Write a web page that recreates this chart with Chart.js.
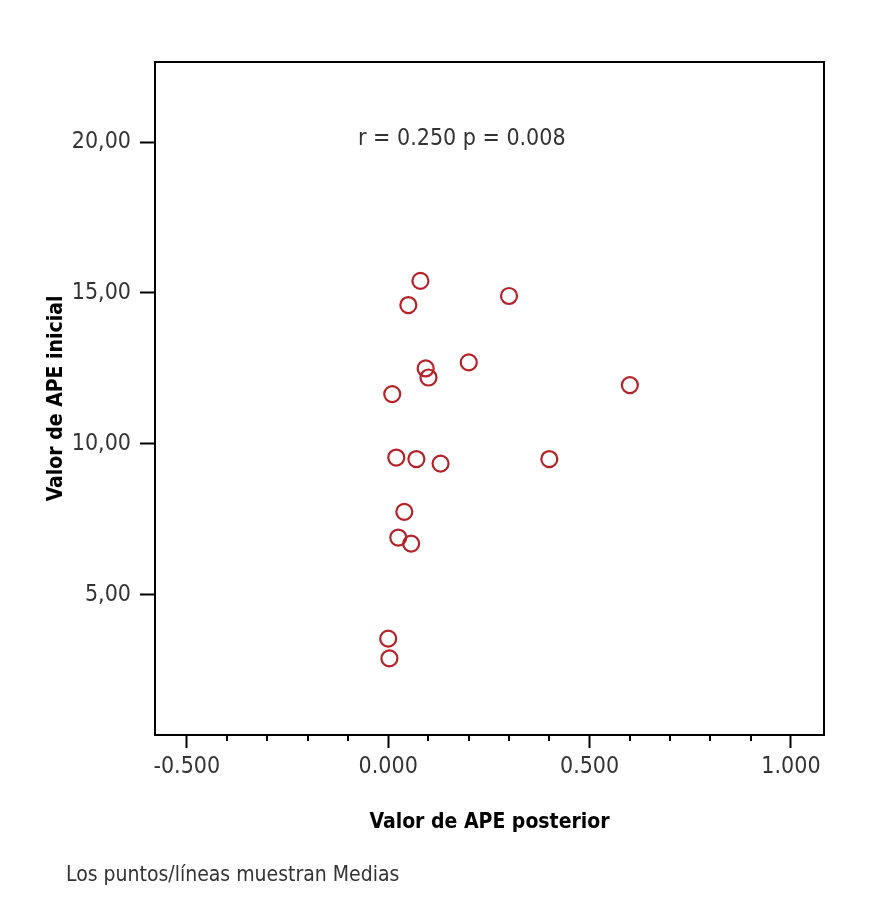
<!DOCTYPE html>
<html>
<head>
<meta charset="utf-8">
<script src="https://cdn.jsdelivr.net/npm/chart.js@4/dist/chart.umd.min.js"></script>
<style>
  body { margin: 0; background: #fff; }
  #wrap { width: 887px; height: 900px; }
</style>
</head>
<body>
<div id="wrap"><canvas id="apeChart" width="887" height="900"></canvas></div>
<script>
// values
const apePosterior = [0.08, 0.05, 0.30, 0.093, 0.10, 0.20, 0.60, 0.01, 0.02, 0.07, 0.13, 0.40, 0.04, 0.025, 0.057, 0.0, 0.003];
const apeInicial = [15.4, 14.6, 14.9, 12.5, 12.2, 12.7, 11.95, 11.65, 9.55, 9.5, 9.35, 9.5, 7.75, 6.9, 6.7, 3.55, 2.9];
const xMajorTicks = [-0.5, 0, 0.5, 1.0];
const xMinorTicks = [-0.4, -0.3, -0.2, -0.1, 0.1, 0.2, 0.3, 0.4, 0.6, 0.7, 0.8, 0.9];
const yTicks = [5, 10, 15, 20];
const statsText = 'r = 0.250 p = 0.008';
const footNote = 'Los puntos/líneas muestran Medias';

const FONT = "'Liberation Sans Narrow', 'DejaVu Sans Condensed', 'Liberation Sans', sans-serif";

// frame, minor ticks and texts
const extras = {
    id: 'extras',
    afterDraw(chart) {
        const ctx = chart.ctx;
        const area = chart.chartArea;
        const xs = chart.scales.x;
        ctx.save();
        ctx.strokeStyle = '#000';
        ctx.lineWidth = 2;
        ctx.strokeRect(area.left, area.top, area.right - area.left, area.bottom - area.top);
        xMinorTicks.forEach(v => {
            const px = Math.round(xs.getPixelForValue(v));
            ctx.beginPath();
            ctx.moveTo(px, area.bottom);
            ctx.lineTo(px, area.bottom + 6);
            ctx.stroke();
        });
        ctx.fillStyle = '#333';
        ctx.textBaseline = 'middle';
        ctx.font = '23px ' + FONT;
        ctx.textAlign = 'left';
        ctx.fillText(statsText, 358, 139);
        ctx.font = '21px ' + FONT;
        ctx.fillText(footNote, 66, 876);
        ctx.restore();
    }
};

new Chart(document.getElementById('apeChart').getContext('2d'), {
    type: 'scatter',
    data: {
        datasets: [{
            data: apePosterior.map((x, i) => ({ x: x, y: apeInicial[i] })),
            pointStyle: 'circle',
            pointRadius: 8,
            pointBorderWidth: 2.2,
            pointBorderColor: '#b52228',
            pointBackgroundColor: 'rgba(0,0,0,0)'
        }]
    },
    options: {
        responsive: false,
        animation: false,
        layout: { padding: { left: 0, top: 62, right: 63, bottom: 0 } },
        plugins: {
            legend: { display: false },
            tooltip: { enabled: false }
        },
        scales: {
            x: {
                type: 'linear',
                min: -0.579,
                max: 1.082,
                afterFit: scale => { scale.height = 165; },
                afterBuildTicks: scale => { scale.ticks = xMajorTicks.map(v => ({ value: v })); },
                grid: { drawOnChartArea: false, tickLength: 13, tickWidth: 2, tickColor: '#000' },
                border: { display: false },
                ticks: {
                    padding: 5,
                    color: '#333',
                    font: { family: FONT, size: 23 },
                    maxRotation: 0,
                    autoSkip: false,
                    callback: v => v.toFixed(3)
                },
                title: {
                    display: true,
                    text: 'Valor de APE posterior',
                    color: '#000',
                    font: { family: FONT, size: 21, weight: 'bold' },
                    padding: { top: 0, bottom: 65 }
                }
            },
            y: {
                type: 'linear',
                min: 0.36,
                max: 22.65,
                afterFit: scale => { scale.width = 155; },
                afterBuildTicks: scale => { scale.ticks = yTicks.map(v => ({ value: v })); },
                grid: { drawOnChartArea: false, tickLength: 15, tickWidth: 2, tickColor: '#000' },
                border: { display: false },
                ticks: {
                    padding: 9,
                    color: '#333',
                    font: { family: FONT, size: 23 },
                    callback: v => v.toFixed(2).replace('.', ',')
                },
                title: {
                    display: true,
                    text: 'Valor de APE inicial',
                    color: '#000',
                    font: { family: FONT, size: 21, weight: 'bold' },
                    padding: { top: 44, bottom: 0 }
                }
            }
        }
    },
    plugins: [extras]
});
</script>
</body>
</html>
